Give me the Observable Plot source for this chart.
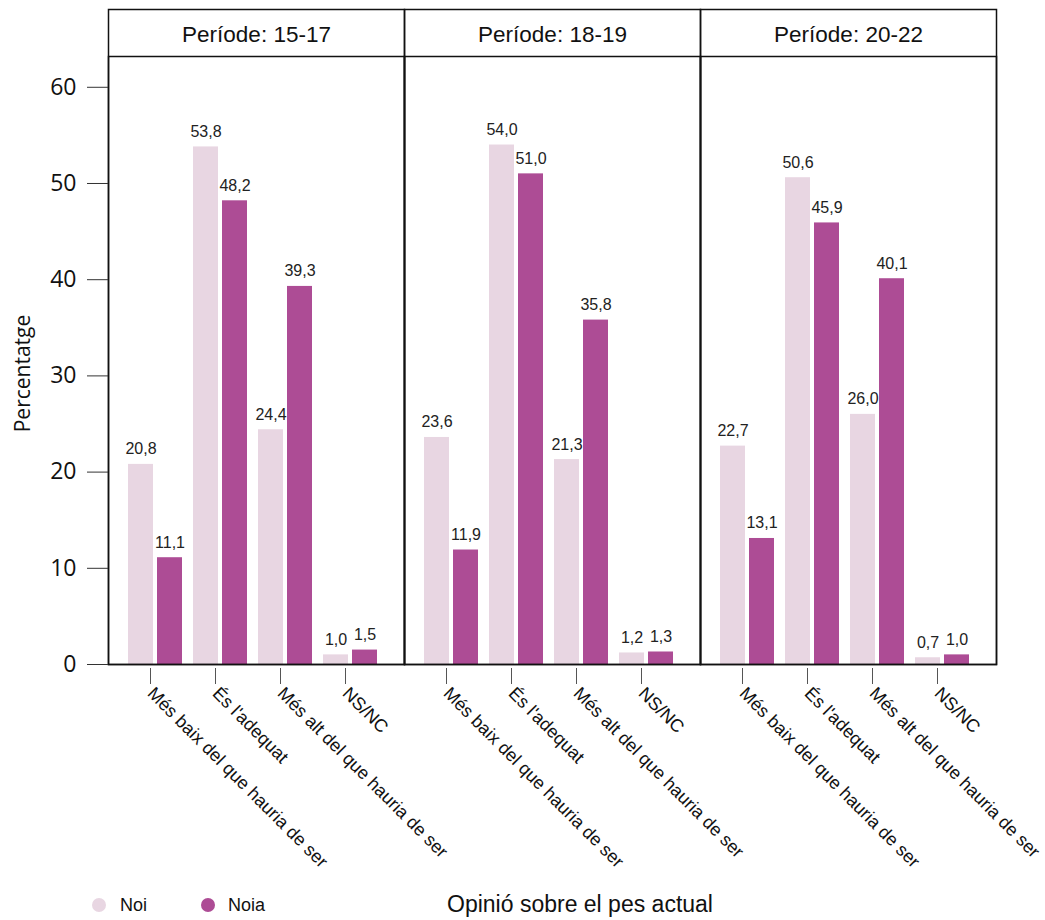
<!DOCTYPE html>
<html>
<head>
<meta charset="utf-8">
<script src="https://cdn.jsdelivr.net/npm/d3@7"></script>
<script src="https://cdn.jsdelivr.net/npm/@observablehq/plot@0.6"></script>
<style>
  html, body { margin: 0; padding: 0; background: #fff; }
  #wrap { position: relative; width: 1045px; font-family: "Liberation Sans", Arial, sans-serif; color: #111; }
  #legend { position: relative; width: 1045px; height: 40px; }
  .dot { position: absolute; width: 14px; height: 14px; border-radius: 50%; top: 18px; }
  .lab { position: absolute; top: 14px; font-size: 18px; line-height: 22px; }
  #xtitle { position: absolute; top: 10px; left: 0; width: 1160px; text-align: center; font-size: 23px; line-height: 28px; }
</style>
</head>
<body>
<div id="wrap">
  <div id="chart"></div>
  <div id="legend"></div>
</div>
<script>
const periods = ["15-17", "18-19", "20-22"];
const categories = [
  "Més baix del que hauria de ser",
  "És l'adequat",
  "Més alt del que hauria de ser",
  "NS/NC"
];
const sexes = ["Noi", "Noia"];
const noiValues = [
  [20.8, 53.8, 24.4, 1.0],
  [23.6, 54.0, 21.3, 1.2],
  [22.7, 50.6, 26.0, 0.7]
];
const noiaValues = [
  [11.1, 48.2, 39.3, 1.5],
  [11.9, 51.0, 35.8, 1.3],
  [13.1, 45.9, 40.1, 1.0]
];
const yTicks = [0, 10, 20, 30, 40, 50, 60];
const colors = { "Noi": "#e8d6e2", "Noia": "#ad4c95" };
const xTitle = "Opinió sobre el pes actual";
const yTitle = "Percentatge";
const facetPrefix = "Període: ";

const rows = [];
periods.forEach((p, i) => {
  categories.forEach((c, j) => {
    rows.push({ period: p, cat: c, sex: "Noi", value: noiValues[i][j] });
    rows.push({ period: p, cat: c, sex: "Noia", value: noiaValues[i][j] });
  });
});
const noiRows = rows.filter(d => d.sex === "Noi");
const noiaRows = rows.filter(d => d.sex === "Noia");
const fmt = d => d.value.toFixed(1).replace(".", ",");

const labelStyle = { fontSize: 16, fill: "#222", lineAnchor: "bottom", dy: -10 };

const chart = Plot.plot({
  width: 1045,
  height: 880,
  marginLeft: 107,
  marginRight: 48,
  marginTop: 56,
  marginBottom: 216,
  style: { fontFamily: "'Liberation Sans', Arial, sans-serif", background: "white", color: "#111" },
  fx: { domain: periods, padding: 0, label: null },
  x: { domain: categories, paddingInner: 0.163, paddingOuter: 0.34, align: 0.43, label: null },
  y: { domain: [0, 63.2], label: null },
  marks: [
    Plot.barY(noiRows, { fx: "period", x: "cat", y: "value", fill: colors["Noi"], insetLeft: 0, insetRight: 29 }),
    Plot.barY(noiaRows, { fx: "period", x: "cat", y: "value", fill: colors["Noia"], insetLeft: 29, insetRight: 0 }),
    Plot.text(noiRows, { fx: "period", x: "cat", y: "value", text: fmt, dx: -14.5, ...labelStyle }),
    Plot.text(noiaRows, { fx: "period", x: "cat", y: "value", text: fmt, dx: 14.5, ...labelStyle }),
    Plot.frame({ stroke: "#111", strokeWidth: 1.5 }),
    Plot.frame({ stroke: "#111", strokeWidth: 1.5, insetTop: -47 }),
    Plot.axisFx({ anchor: "top", tickSize: 0, tickPadding: 15, fontSize: 22.5, tickFormat: d => facetPrefix + d, label: null }),
    Plot.axisX({ anchor: "bottom", tickSize: 16, tickPadding: 6, tickRotate: 45, fontSize: 18, dx: -5, dy: 4, label: null, stroke: "#555", fill: "#111" }),
    Plot.axisY({ anchor: "left", ticks: yTicks, tickSize: 21, tickPadding: 11, fontSize: 23, fontFamily: "'Open Sans', sans-serif", label: null, stroke: "#333", fill: "#111" }),
    Plot.text([yTitle], { fx: () => periods[0], frameAnchor: "left", textAnchor: "middle", dx: -85, dy: 13, rotate: -90, fontSize: 21, fontFamily: "'Open Sans', sans-serif", fill: "#111", text: d => d })
  ]
});
document.getElementById("chart").appendChild(chart);

// legend + x title below the SVG
const legend = document.getElementById("legend");
const legendPos = { "Noi": [92, 120], "Noia": [201, 228] };
sexes.forEach(s => {
  const dot = document.createElement("div");
  dot.className = "dot";
  dot.style.left = legendPos[s][0] + "px";
  dot.style.background = colors[s];
  legend.appendChild(dot);
  const lab = document.createElement("div");
  lab.className = "lab";
  lab.style.left = legendPos[s][1] + "px";
  lab.textContent = s;
  legend.appendChild(lab);
});
const xt = document.createElement("div");
xt.id = "xtitle";
xt.textContent = xTitle;
legend.appendChild(xt);
</script>
</body>
</html>
